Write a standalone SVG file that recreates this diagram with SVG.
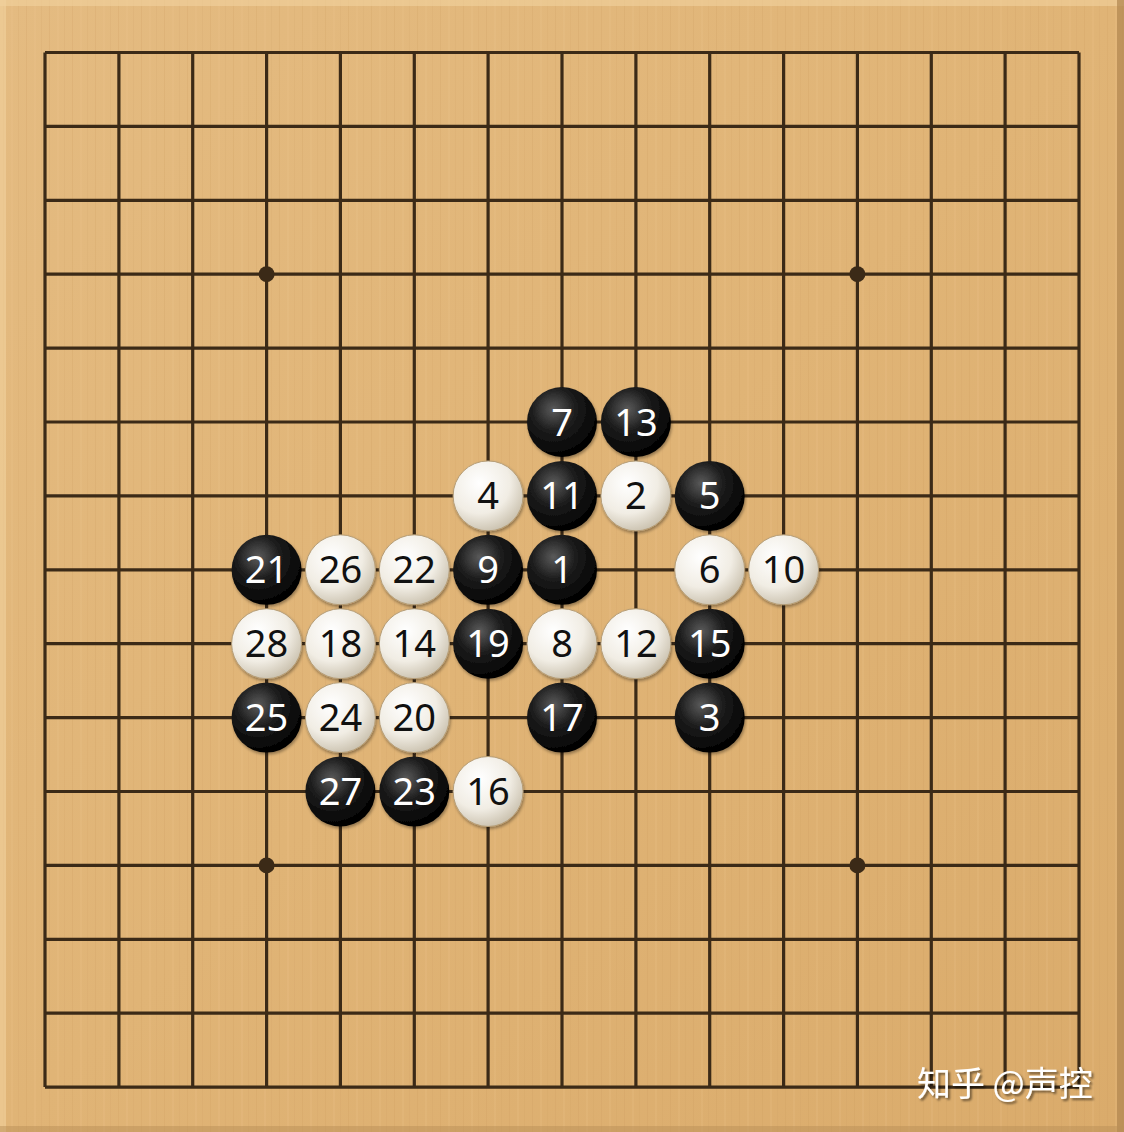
<svg xmlns="http://www.w3.org/2000/svg" width="1124" height="1132" viewBox="0 0 1124 1132">
<defs>
<linearGradient id="wood" x1="0" y1="0" x2="1" y2="1">
<stop offset="0" stop-color="#e4bb81"/>
<stop offset="0.5" stop-color="#e0b476"/>
<stop offset="1" stop-color="#daab6b"/>
</linearGradient>
<pattern id="grain" width="23" height="1132" patternUnits="userSpaceOnUse">
<rect x="3" y="0" width="1" height="1132" fill="#c9965a" opacity="0.18"/>
<rect x="11" y="0" width="2" height="1132" fill="#f0c890" opacity="0.15"/>
<rect x="18" y="0" width="1" height="1132" fill="#c9965a" opacity="0.12"/>
</pattern>
<radialGradient id="gb" cx="0.38" cy="0.32" r="0.7">
<stop offset="0" stop-color="#5a5a5a"/>
<stop offset="0.45" stop-color="#1c1c1c"/>
<stop offset="1" stop-color="#000"/>
</radialGradient>
<radialGradient id="gw" cx="0.38" cy="0.32" r="0.72">
<stop offset="0" stop-color="#ffffff"/>
<stop offset="0.6" stop-color="#f1ede4"/>
<stop offset="1" stop-color="#c9c0ad"/>
</radialGradient>
<filter id="sh" x="-20%" y="-20%" width="140%" height="140%">
<feDropShadow dx="1" dy="2" stdDeviation="1.5" flood-color="#000" flood-opacity="0.35"/>
</filter>
<filter id="tsh" x="-10%" y="-30%" width="120%" height="160%">
<feDropShadow dx="2" dy="2" stdDeviation="1" flood-color="#000" flood-opacity="0.5"/>
</filter>
</defs>
<style>
.grid line{stroke:#3b2a17;stroke-width:3.2}
.star{fill:#3b2a17}
.b{fill:url(#gb);filter:url(#sh)}
.w{fill:url(#gw);filter:url(#sh);stroke:#b59d77;stroke-width:1}
.n{font-family:"Noto Sans","Open Sans","DejaVu Sans",sans-serif;font-size:38px;text-anchor:middle}
.nb{fill:#fff}
.nw{fill:#111}
.wm{font-family:"Noto Sans CJK SC","Noto Sans",sans-serif;font-size:34px;fill:#fff;filter:url(#tsh)}
</style>
<rect width="1124" height="1132" fill="url(#wood)"/>
<rect width="1124" height="1132" fill="url(#grain)"/>
<rect x="0" y="0" width="1124" height="6" fill="#f2d29e" opacity="0.6"/>
<rect x="0" y="0" width="6" height="1132" fill="#f2d29e" opacity="0.6"/>
<rect x="1117" y="0" width="7" height="1132" fill="#b08650" opacity="0.7"/>
<rect x="0" y="1126" width="1124" height="6" fill="#b99058" opacity="0.5"/>
<g id="grid" class="grid">
<line x1="45" y1="52.5" x2="1079" y2="52.5"/>
<line x1="45" y1="126.4" x2="1079" y2="126.4"/>
<line x1="45" y1="200.3" x2="1079" y2="200.3"/>
<line x1="45" y1="274.2" x2="1079" y2="274.2"/>
<line x1="45" y1="348.1" x2="1079" y2="348.1"/>
<line x1="45" y1="422" x2="1079" y2="422"/>
<line x1="45" y1="495.9" x2="1079" y2="495.9"/>
<line x1="45" y1="569.8" x2="1079" y2="569.8"/>
<line x1="45" y1="643.7" x2="1079" y2="643.7"/>
<line x1="45" y1="717.6" x2="1079" y2="717.6"/>
<line x1="45" y1="791.5" x2="1079" y2="791.5"/>
<line x1="45" y1="865.4" x2="1079" y2="865.4"/>
<line x1="45" y1="939.3" x2="1079" y2="939.3"/>
<line x1="45" y1="1013.2" x2="1079" y2="1013.2"/>
<line x1="45" y1="1087.1" x2="1079" y2="1087.1"/>
<line x1="45" y1="52.5" x2="45" y2="1087.1"/>
<line x1="118.9" y1="52.5" x2="118.9" y2="1087.1"/>
<line x1="192.7" y1="52.5" x2="192.7" y2="1087.1"/>
<line x1="266.6" y1="52.5" x2="266.6" y2="1087.1"/>
<line x1="340.4" y1="52.5" x2="340.4" y2="1087.1"/>
<line x1="414.3" y1="52.5" x2="414.3" y2="1087.1"/>
<line x1="488.1" y1="52.5" x2="488.1" y2="1087.1"/>
<line x1="562" y1="52.5" x2="562" y2="1087.1"/>
<line x1="635.9" y1="52.5" x2="635.9" y2="1087.1"/>
<line x1="709.7" y1="52.5" x2="709.7" y2="1087.1"/>
<line x1="783.6" y1="52.5" x2="783.6" y2="1087.1"/>
<line x1="857.4" y1="52.5" x2="857.4" y2="1087.1"/>
<line x1="931.3" y1="52.5" x2="931.3" y2="1087.1"/>
<line x1="1005.1" y1="52.5" x2="1005.1" y2="1087.1"/>
<line x1="1079" y1="52.5" x2="1079" y2="1087.1"/>
</g>
<g id="stars">
<circle class="star" cx="266.6" cy="274.2" r="8"/>
<circle class="star" cx="857.4" cy="274.2" r="8"/>
<circle class="star" cx="266.6" cy="865.4" r="8"/>
<circle class="star" cx="857.4" cy="865.4" r="8"/>
</g>
<g id="connectors"></g>
<g id="s1"><circle class="b" cx="562" cy="569.8" r="35"/><text class="n nb" x="562" y="583.3">1</text></g>
<g id="s2"><circle class="w" cx="635.9" cy="495.9" r="35"/><text class="n nw" x="635.9" y="509.4">2</text></g>
<g id="s3"><circle class="b" cx="709.7" cy="717.6" r="35"/><text class="n nb" x="709.7" y="731.1">3</text></g>
<g id="s4"><circle class="w" cx="488.1" cy="495.9" r="35"/><text class="n nw" x="488.1" y="509.4">4</text></g>
<g id="s5"><circle class="b" cx="709.7" cy="495.9" r="35"/><text class="n nb" x="709.7" y="509.4">5</text></g>
<g id="s6"><circle class="w" cx="709.7" cy="569.8" r="35"/><text class="n nw" x="709.7" y="583.3">6</text></g>
<g id="s7"><circle class="b" cx="562" cy="422" r="35"/><text class="n nb" x="562" y="435.5">7</text></g>
<g id="s8"><circle class="w" cx="562" cy="643.7" r="35"/><text class="n nw" x="562" y="657.2">8</text></g>
<g id="s9"><circle class="b" cx="488.1" cy="569.8" r="35"/><text class="n nb" x="488.1" y="583.3">9</text></g>
<g id="s10"><circle class="w" cx="783.6" cy="569.8" r="35"/><text class="n nw" x="783.6" y="583.3">10</text></g>
<g id="s11"><circle class="b" cx="562" cy="495.9" r="35"/><text class="n nb" x="562" y="509.4">11</text></g>
<g id="s12"><circle class="w" cx="635.9" cy="643.7" r="35"/><text class="n nw" x="635.9" y="657.2">12</text></g>
<g id="s13"><circle class="b" cx="635.9" cy="422" r="35"/><text class="n nb" x="635.9" y="435.5">13</text></g>
<g id="s14"><circle class="w" cx="414.3" cy="643.7" r="35"/><text class="n nw" x="414.3" y="657.2">14</text></g>
<g id="s15"><circle class="b" cx="709.7" cy="643.7" r="35"/><text class="n nb" x="709.7" y="657.2">15</text></g>
<g id="s16"><circle class="w" cx="488.1" cy="791.5" r="35"/><text class="n nw" x="488.1" y="805">16</text></g>
<g id="s17"><circle class="b" cx="562" cy="717.6" r="35"/><text class="n nb" x="562" y="731.1">17</text></g>
<g id="s18"><circle class="w" cx="340.4" cy="643.7" r="35"/><text class="n nw" x="340.4" y="657.2">18</text></g>
<g id="s19"><circle class="b" cx="488.1" cy="643.7" r="35"/><text class="n nb" x="488.1" y="657.2">19</text></g>
<g id="s20"><circle class="w" cx="414.3" cy="717.6" r="35"/><text class="n nw" x="414.3" y="731.1">20</text></g>
<g id="s21"><circle class="b" cx="266.6" cy="569.8" r="35"/><text class="n nb" x="266.6" y="583.3">21</text></g>
<g id="s22"><circle class="w" cx="414.3" cy="569.8" r="35"/><text class="n nw" x="414.3" y="583.3">22</text></g>
<g id="s23"><circle class="b" cx="414.3" cy="791.5" r="35"/><text class="n nb" x="414.3" y="805">23</text></g>
<g id="s24"><circle class="w" cx="340.4" cy="717.6" r="35"/><text class="n nw" x="340.4" y="731.1">24</text></g>
<g id="s25"><circle class="b" cx="266.6" cy="717.6" r="35"/><text class="n nb" x="266.6" y="731.1">25</text></g>
<g id="s26"><circle class="w" cx="340.4" cy="569.8" r="35"/><text class="n nw" x="340.4" y="583.3">26</text></g>
<g id="s27"><circle class="b" cx="340.4" cy="791.5" r="35"/><text class="n nb" x="340.4" y="805">27</text></g>
<g id="s28"><circle class="w" cx="266.6" cy="643.7" r="35"/><text class="n nw" x="266.6" y="657.2">28</text></g>
<text class="wm" x="917" y="1096">知乎 @声控</text>
</svg>
